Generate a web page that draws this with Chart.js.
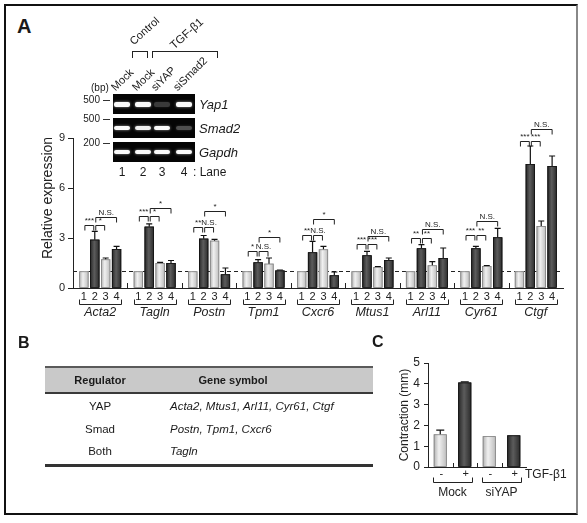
<!DOCTYPE html>
<html>
<head>
<meta charset="utf-8">
<script src="https://cdn.jsdelivr.net/npm/chart.js@4.4.0/dist/chart.umd.min.js"></script>
<style>
  body { margin: 0; background: #fff; }
  #fig { position: relative; width: 587px; height: 523px; overflow: hidden;
         font-family: Arial, "Liberation Sans", sans-serif; color: #1a1a1a; }
  .t { position: absolute; white-space: nowrap; line-height: 1; }
  canvas { position: absolute; }
  .box { position: absolute; box-sizing: border-box; }
</style>
</head>
<body>
<div id="fig">
  <div class="box" style="left:4px;top:4px;width:574px;height:511px;border:2px solid #111;border-right-color:#888;"></div>
  <canvas id="chartA" width="580" height="218" style="left:0;top:112px;"></canvas>
  <canvas id="chartC" width="220" height="160" style="left:360px;top:345px;"></canvas>
</div>
<script>
// panel A: relative expression, lanes 1-4 per gene
const genes = ['Acta2', 'Tagln', 'Postn', 'Tpm1', 'Cxcr6', 'Mtus1', 'Arl11', 'Cyr61', 'Ctgf'];
const laneNames = ['1', '2', '3', '4'];
const lane1 = [1, 1, 1, 1, 1, 1, 1, 1, 1];
const lane2 = [2.9, 3.68, 2.96, 1.54, 2.14, 1.96, 2.38, 2.38, 7.44];
const lane3 = [1.72, 1.5, 2.84, 1.46, 2.32, 1.26, 1.36, 1.32, 3.72];
const lane4 = [2.34, 1.5, 0.82, 1.05, 0.76, 1.68, 1.8, 3.04, 7.32];
const lane1Err = [0, 0, 0, 0, 0, 0, 0, 0, 0];
const lane2Err = [0.5, 0.17, 0.19, 0.16, 0.66, 0.24, 0.22, 0.12, 1.08];
const lane3Err = [0.08, 0.04, 0.08, 0.34, 0.18, 0.03, 0.22, 0.03, 0.3];
const lane4Err = [0.16, 0.15, 0.38, 0.03, 0.2, 0.12, 0.6, 0.54, 0.6];
const yTicksA = [0, 3, 6, 9];
// significance brackets (lane 1-2, 2-3 at low level; 2-4 at high level)
const sig12 = ['***', '***', '**', '*', '**', '***', '**', '***', '***'];
const sig23 = ['*', '*', 'N.S.', 'N.S.', 'N.S.', '***', '**', '**', '***'];
const sig24 = ['N.S.', '*', '*', '*', '*', 'N.S.', 'N.S.', 'N.S.', 'N.S.'];
const lowBracket = [3.78, 4.34, 3.64, 2.24, 3.2, 2.62, 3.02, 3.16, 8.82];
const highBracket = [4.24, 4.82, 4.64, 3.04, 4.12, 3.12, 3.54, 4.02, 9.52];

// gel inset
const gelLanes = ['Mock', 'Mock', 'siYAP', 'siSmad2'];
const gelGenes = ['Yap1', 'Smad2', 'Gapdh'];
const gelMarkers = ['500', '500', '200'];
const gelIntensity = [[1, 1, 0.22, 1], [1, 0.95, 1, 0.3], [1, 1, 1, 1]];

// panel B table
const regulators = ['YAP', 'Smad', 'Both'];
const regulatedGenes = ['Acta2, Mtus1, Arl11, Cyr61, Ctgf', 'Postn, Tpm1, Cxcr6', 'Tagln'];

// panel C: contraction
const treatGroups = ['Mock', 'siYAP'];
const tgfLabels = ['-', '+', '-', '+'];
const contraction = [1.57, 4.06, 1.48, 1.52];
const contractionErr = [0.2, 0.03, 0, 0];
const yTicksC = [0, 1, 2, 3, 4, 5];

const lanes = [lane1, lane2, lane3, lane4];
const lanesErr = [lane1Err, lane2Err, lane3Err, lane4Err];
const FONT = 'Arial, "Liberation Sans", sans-serif';
const fig = document.getElementById('fig');

function txt(x, y, s, o = {}) {
  const d = document.createElement('div');
  const size = o.size || 11;
  d.className = 't';
  d.textContent = s;
  d.style.fontSize = size + 'px';
  if (o.bold) d.style.fontWeight = 'bold';
  if (o.italic) d.style.fontStyle = 'italic';
  d.style.left = x + 'px';
  if (o.rotate) {
    d.style.top = (y - size) + 'px';
    d.style.transformOrigin = '0 100%';
    d.style.transform = 'rotate(' + o.rotate + 'deg)';
  } else {
    d.style.top = (y - size / 2) + 'px';
    if (o.align === 'center') d.style.transform = 'translateX(-50%)';
    if (o.align === 'right') d.style.transform = 'translateX(-100%)';
  }
  fig.appendChild(d);
}
function box(x, y, w, h, css) {
  const d = document.createElement('div');
  d.className = 'box';
  d.style.cssText += 'left:' + x + 'px;top:' + y + 'px;width:' + w + 'px;height:' + h + 'px;' + css;
  fig.appendChild(d);
}

// panel letters
txt(17, 26, 'A', { size: 20, bold: true });
txt(18, 343, 'B', { size: 16, bold: true });
txt(372, 342, 'C', { size: 16, bold: true });

// gel inset
const gelTop = [94, 118, 142];
const bandX = [122, 143, 162, 184];
gelGenes.forEach((g, r) => {
  box(113, gelTop[r], 82, 20, 'background:#050505;');
  gelIntensity[r].forEach((v, k) => {
    const h = r === 0 ? 5 : 4;
    box(bandX[k] - 8, gelTop[r] + 10 - h / 2, 16, h,
      'background:rgba(250,250,250,' + v + ');border-radius:2px;box-shadow:0 0 3px rgba(255,255,255,' + (v * 0.6) + ');');
  });
  txt(199, gelTop[r] + 10, g, { size: 13, italic: true });
  txt(100, gelTop[r] + (r === 0 ? 6 : 1), gelMarkers[r], { size: 10, align: 'right' });
  box(103, gelTop[r] + (r === 0 ? 6 : 1), 7, 1, 'background:#333;');
});
txt(91, 88, '(bp)', { size: 10 });
gelLanes.forEach((l, k) => txt(bandX[k] - 5, 93, l, { size: 11, rotate: -45 }));
laneNames.forEach((l, k) => txt(bandX[k], 172, l, { size: 12, align: 'center' }));
txt(193, 172, ': Lane', { size: 12 });
box(132, 51, 16, 7, 'border:1px solid #222;border-bottom:none;');
box(152, 51, 66, 7, 'border:1px solid #222;border-bottom:none;');
txt(135, 47, 'Control', { size: 11, rotate: -42 });
txt(176, 51, 'TGF-\u03b21', { size: 11.5, rotate: -42 });

// panel B table
box(45, 366, 328, 28, 'background:#c9c9c9;border-top:2px solid #5a5a5a;border-bottom:2px solid #3a3a3a;');
box(45, 464, 328, 3, 'background:#333;');
txt(100, 380, 'Regulator', { size: 11, bold: true, align: 'center' });
txt(233, 380, 'Gene symbol', { size: 11, bold: true, align: 'center' });
[407, 430, 452].forEach((yy, i) => {
  txt(100, yy, regulators[i], { size: 11.5, align: 'center' });
  txt(170, yy, regulatedGenes[i], { size: 11.5, italic: true });
});

function shade(ctx, el, dark) {
  const { x, y, base, width } = el.getProps(['x', 'y', 'base', 'width'], true);
  const l = x - width / 2, top = Math.min(y, base), h = Math.abs(base - y);
  const g = ctx.createLinearGradient(l, 0, l + width, 0);
  if (dark) {
    g.addColorStop(0, '#262626'); g.addColorStop(0.45, '#5c5c5c'); g.addColorStop(1, '#2a2a2a');
  } else {
    g.addColorStop(0, '#b0b0b0'); g.addColorStop(0.4, '#f0f0f0'); g.addColorStop(1, '#bcbcbc');
  }
  ctx.fillStyle = g;
  ctx.fillRect(l, top, width, h);
  ctx.strokeStyle = dark ? '#111' : '#808080';
  ctx.lineWidth = 0.8;
  ctx.strokeRect(l + 0.4, top + 0.4, width - 0.8, h - 0.4);
}
function errBar(ctx, el, ys, v, e, cap) {
  if (!e) return;
  const top = ys.getPixelForValue(v + e);
  ctx.strokeStyle = '#111';
  ctx.lineWidth = 1.2;
  ctx.beginPath();
  ctx.moveTo(el.x, el.y); ctx.lineTo(el.x, top);
  ctx.moveTo(el.x - cap, top); ctx.lineTo(el.x + cap, top);
  ctx.stroke();
}
function bracket(ctx, x1, x2, y, label) {
  ctx.strokeStyle = '#222';
  ctx.lineWidth = 1;
  ctx.beginPath();
  ctx.moveTo(x1, y + 5); ctx.lineTo(x1, y); ctx.lineTo(x2, y); ctx.lineTo(x2, y + 5);
  ctx.stroke();
  ctx.font = '8px ' + FONT;
  ctx.textAlign = 'center';
  ctx.textBaseline = 'bottom';
  ctx.fillStyle = '#222';
  ctx.fillText(label, (x1 + x2) / 2, y - 1);
}
function groupLine(ctx, x1, x2, y) {
  ctx.strokeStyle = '#222';
  ctx.lineWidth = 1;
  ctx.beginPath();
  ctx.moveTo(x1, y - 5); ctx.lineTo(x1, y); ctx.lineTo(x2, y); ctx.lineTo(x2, y - 5);
  ctx.stroke();
}

const panelA = {
  id: 'panelA',
  beforeDatasetsDraw(chart) {
    const { ctx, chartArea: a, scales: { y } } = chart;
    const yy = Math.round(y.getPixelForValue(1)) + 0.5;
    ctx.save();
    ctx.setLineDash([4, 3]);
    ctx.strokeStyle = '#222';
    ctx.beginPath(); ctx.moveTo(a.left, yy); ctx.lineTo(a.right, yy); ctx.stroke();
    ctx.restore();
  },
  afterDatasetsDraw(chart) {
    const { ctx, chartArea: a, scales: { x, y } } = chart;
    const bars = lanes.map((_, di) => chart.getDatasetMeta(di).data);
    ctx.save();
    bars.forEach((els, di) => els.forEach(el => shade(ctx, el, di % 2 === 1)));
    bars.forEach((els, di) => els.forEach((el, i) => errBar(ctx, el, y, lanes[di][i], lanesErr[di][i], 3)));
    genes.forEach((g, i) => {
      const b = bars.map(els => els[i].x);
      const lo = Math.round(y.getPixelForValue(lowBracket[i])) + 0.5;
      const hi = Math.round(y.getPixelForValue(highBracket[i])) + 0.5;
      bracket(ctx, b[0] + 1, b[1] - 1, lo, sig12[i]);
      bracket(ctx, b[1] + 1, b[2] - 1, lo, sig23[i]);
      bracket(ctx, b[1] + 1, b[3], hi, sig24[i]);
      ctx.font = '11px ' + FONT;
      ctx.textAlign = 'center';
      ctx.textBaseline = 'middle';
      b.forEach((bx, k) => ctx.fillText(laneNames[k], bx, a.bottom + 9));
      const cx = x.getPixelForValue(i);
      groupLine(ctx, Math.round(cx - 21) + 0.5, Math.round(cx + 21) + 0.5, a.bottom + 16.5);
      ctx.font = 'italic 12.5px ' + FONT;
      ctx.fillStyle = '#222';
      ctx.fillText(g, cx, a.bottom + 25);
    });
    const step = (a.right - a.left) / genes.length;
    ctx.beginPath();
    for (let k = 1; k < genes.length; k++) {
      const xx = Math.round(a.left + k * step) + 0.5;
      ctx.moveTo(xx, a.bottom); ctx.lineTo(xx, a.bottom - 5);
    }
    ctx.stroke();
    ctx.translate(a.left - 25, a.top + 60);
    ctx.rotate(-Math.PI / 2);
    ctx.font = '14px ' + FONT;
    ctx.fillText('Relative expression', 0, 0);
    ctx.restore();
  }
};

const panelC = {
  id: 'panelC',
  afterDatasetsDraw(chart) {
    const { ctx, chartArea: a, scales: { x, y } } = chart;
    const els = chart.getDatasetMeta(0).data;
    ctx.save();
    els.forEach((el, i) => shade(ctx, el, i % 2 === 1));
    els.forEach((el, i) => errBar(ctx, el, y, contraction[i], contractionErr[i], 4));
    ctx.fillStyle = '#222';
    ctx.font = '11px ' + FONT;
    ctx.textAlign = 'center';
    ctx.textBaseline = 'middle';
    els.forEach((el, i) => ctx.fillText(tgfLabels[i], el.x + 1, a.bottom + 7));
    treatGroups.forEach((g, k) => {
      const x1 = els[k * 2].x, x2 = els[k * 2 + 1].x;
      groupLine(ctx, Math.round(x1 - 7) + 0.5, Math.round(x2 + 7) + 0.5, a.bottom + 15.5);
      ctx.font = '12px ' + FONT;
      ctx.fillText(g, (x1 + x2) / 2, a.bottom + 26);
    });
    ctx.textAlign = 'left';
    ctx.font = '12px ' + FONT;
    ctx.fillText('TGF-\u03b21', a.right - 1, a.bottom + 8);
    const step = (a.right - a.left) / tgfLabels.length;
    ctx.beginPath();
    for (let k = 1; k < tgfLabels.length; k++) {
      const xx = Math.round(a.left + k * step) + 0.5;
      ctx.moveTo(xx, a.bottom); ctx.lineTo(xx, a.bottom - 4);
    }
    ctx.stroke();
    ctx.translate(a.left - 23, (a.top + a.bottom) / 2);
    ctx.rotate(-Math.PI / 2);
    ctx.textAlign = 'center';
    ctx.fillText('Contraction (mm)', 0, 0);
    ctx.restore();
  }
};

Chart.defaults.font.family = FONT;
Chart.defaults.color = '#222';

new Chart(document.getElementById('chartA'), {
  type: 'bar',
  data: {
    labels: genes,
    datasets: lanes.map((d, i) => ({
      label: 'Lane ' + laneNames[i],
      data: d,
      backgroundColor: i % 2 ? '#444' : '#d6d6d6',
      categoryPercentage: 0.8,
      barPercentage: 0.85
    }))
  },
  options: {
    responsive: false,
    animation: false,
    devicePixelRatio: 1,
    layout: { padding: { top: 26, right: 17, left: 0, bottom: 0 } },
    plugins: { legend: { display: false }, tooltip: { enabled: false } },
    scales: {
      x: {
        grid: { display: false },
        ticks: { display: false },
        border: { color: '#222' },
        afterFit(s) { s.height = 42; }
      },
      y: {
        min: 0, max: 9,
        afterBuildTicks(s) { s.ticks = yTicksA.map(v => ({ value: v })); },
        ticks: { font: { size: 11 }, color: '#222', padding: 3 },
        grid: { drawOnChartArea: false, tickLength: 5, color: '#222' },
        border: { color: '#222' },
        afterFit(s) { s.width = 73; }
      }
    }
  },
  plugins: [panelA]
});

new Chart(document.getElementById('chartC'), {
  type: 'bar',
  data: {
    labels: tgfLabels,
    datasets: [{
      label: 'Contraction',
      data: contraction,
      backgroundColor: ['#d6d6d6', '#444', '#d6d6d6', '#444'],
      categoryPercentage: 1,
      barPercentage: 0.53
    }]
  },
  options: {
    responsive: false,
    animation: false,
    devicePixelRatio: 1,
    layout: { padding: { top: 18, right: 54, left: 0, bottom: 0 } },
    plugins: { legend: { display: false }, tooltip: { enabled: false } },
    scales: {
      x: {
        grid: { display: false },
        ticks: { display: false },
        border: { color: '#222' },
        afterFit(s) { s.height = 38; }
      },
      y: {
        min: 0, max: 5,
        afterBuildTicks(s) { s.ticks = yTicksC.map(v => ({ value: v })); },
        ticks: { font: { size: 12 }, color: '#222', padding: 4 },
        grid: { drawOnChartArea: false, tickLength: 4, color: '#222' },
        border: { color: '#222' },
        afterFit(s) { s.width = 68; }
      }
    }
  },
  plugins: [panelC]
});
</script>
</body>
</html>
